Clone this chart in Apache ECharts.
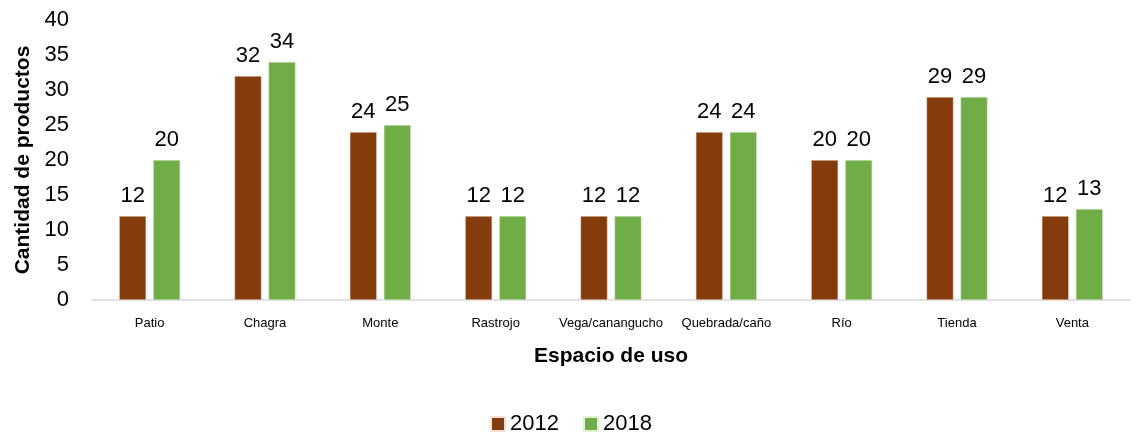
<!DOCTYPE html>
<html><head><meta charset="utf-8">
<script src="https://cdn.jsdelivr.net/npm/echarts@6/dist/echarts.min.js"></script>
<style>html,body{margin:0;padding:0;background:#fff}#c{width:1142px;height:437px}</style>
</head><body><div id="c"></div>
<script>
const categories = ['Patio','Chagra','Monte','Rastrojo','Vega/canangucho','Quebrada/caño','Río','Tienda','Venta'];
const values2012 = [12,32,24,12,12,24,20,29,12];
const values2018 = [20,34,25,12,12,24,20,29,13];
const yTicks = [0,5,10,15,20,25,30,35,40];
const F = '"Liberation Sans Narrow","Arial Narrow","Liberation Sans",Arial,sans-serif';
const chart = echarts.init(document.getElementById('c'));
const lbl = {show:true, position:'top', color:'#000', fontSize:22, fontFamily:F, distance:9};
chart.setOption({
  animation:false,
  grid:{left:92, right:12, top:20, bottom:137, containLabel:false},
  legend:{bottom:-3, left:'center', itemWidth:14, itemHeight:14, itemGap:24, icon:'rect',
    textStyle:{fontSize:22, fontFamily:F, color:'#000'}, data:['2012','2018']},
  xAxis:{type:'category', data:categories, name:'Espacio de uso', nameLocation:'middle', nameGap:46,
    nameTextStyle:{fontSize:21, fontWeight:'bold', fontFamily:F, color:'#000'},
    axisLine:{lineStyle:{color:'#d9d9d9', width:1.5}}, axisTick:{show:false},
    axisLabel:{fontSize:13, fontFamily:F, color:'#000', margin:17, interval:0}},
  yAxis:{type:'value', min:yTicks[0], max:yTicks[yTicks.length-1], interval:5,
    name:'Cantidad de productos', nameLocation:'middle', nameGap:58, nameRotate:90,
    nameTextStyle:{fontSize:21, fontWeight:'bold', fontFamily:F, color:'#000'},
    axisLine:{show:false}, axisTick:{show:false}, splitLine:{show:false},
    axisLabel:{fontSize:22, fontFamily:F, color:'#000', margin:23}},
  series:[
    {name:'2012', type:'bar', data:values2012, barWidth:27, barGap:'26%',
     itemStyle:{color:'#843C0C', borderColor:'#f5e0d5', borderWidth:0.5}, label:lbl},
    {name:'2018', type:'bar', data:values2018, barWidth:27,
     itemStyle:{color:'#70AD47', borderColor:'#e0f0d8', borderWidth:0.5}, label:lbl}
  ]
});
</script></body></html>
